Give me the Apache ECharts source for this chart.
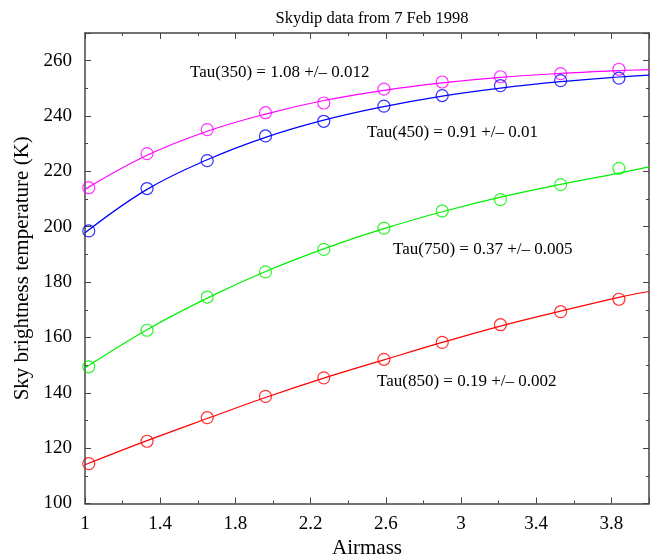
<!DOCTYPE html>
<html>
<head>
<meta charset="utf-8">
<script src="https://cdn.jsdelivr.net/npm/echarts@6/dist/echarts.min.js"></script>
<style>html,body{margin:0;padding:0;background:#fff;}#c{width:650px;height:558px;}</style>
</head>
<body>
<div id="c"></div>
<script>
// measured points
var airmass = [1.02, 1.33, 1.65, 1.96, 2.27, 2.59, 2.90, 3.21, 3.53, 3.84];
var t350 = [214.1, 226.4, 235.1, 241.2, 244.7, 249.7, 252.3, 254.2, 255.3, 256.9];
var t450 = [198.5, 213.8, 223.9, 232.8, 238.1, 243.6, 247.4, 251.0, 252.8, 253.7];
var t750 = [149.4, 162.6, 174.6, 183.7, 191.8, 199.5, 205.7, 209.8, 215.2, 221.1];
var t850 = [114.4, 122.5, 131.0, 138.7, 145.4, 152.1, 158.2, 164.6, 169.3, 173.8];
// fitted curves
var fitAirmass = [1.0, 1.33, 1.65, 1.96, 2.27, 2.59, 2.90, 3.21, 3.53, 3.84, 4.0];
var fit350 = [213.5, 225.8, 234.5, 240.7, 245.6, 249.3, 252.0, 254.0, 255.4, 256.4, 256.8];
var fit450 = [197.8, 213.5, 224.2, 232.3, 238.5, 243.4, 247.2, 250.1, 252.4, 254.1, 254.8];
var fit750 = [149.0, 162.8, 174.2, 183.8, 192.0, 199.3, 205.4, 210.7, 215.3, 219.4, 221.6];
var fit850 = [114.0, 122.7, 130.7, 138.3, 145.3, 151.9, 158.2, 164.1, 169.5, 174.5, 176.6];
var labels = ['Tau(350) = 1.08 +/\u2013 0.012', 'Tau(450) = 0.91 +/\u2013 0.01', 'Tau(750) = 0.37 +/\u2013 0.005', 'Tau(850) = 0.19 +/\u2013 0.002'];
var colors = ['#ff00ff', '#0000ff', '#00f000', '#ff0000'];

function zip(xs, ys) { return xs.map(function (x, i) { return [x, ys[i]]; }); }

var FONT = 'Liberation Serif';
var axisCol = '#444';
var chart = echarts.init(document.getElementById('c'), null, {renderer: 'canvas'});

function xAx(pos, show) {
  return {
    type: 'value', position: pos, min: 1, max: 4, interval: 0.4,
    axisLine: {show: true, onZero: false, lineStyle: {color: axisCol, width: 1.5}},
    axisTick: {show: true, inside: true, length: 6, lineStyle: {color: axisCol}},
    minorTick: {show: true, splitNumber: 2, length: 3, lineStyle: {color: axisCol}},
    splitLine: {show: false},
    axisLabel: {show: show, color: '#000', fontFamily: FONT, fontSize: 19, margin: 11,
      showMaxLabel: false, formatter: function (v) { return String(Math.round(v * 10) / 10); }},
    name: show ? 'Airmass' : '', nameLocation: 'middle', nameGap: 33,
    nameTextStyle: {color: '#000', fontFamily: FONT, fontSize: 21}
  };
}
function yAx(pos, show) {
  return {
    type: 'value', position: pos, min: 100, max: 270, interval: 20,
    axisLine: {show: true, onZero: false, lineStyle: {color: axisCol, width: 1.5}},
    axisTick: {show: true, inside: true, length: 6, lineStyle: {color: axisCol}},
    minorTick: {show: true, splitNumber: 2, length: 3, lineStyle: {color: axisCol}},
    splitLine: {show: false},
    axisLabel: {show: show, color: '#000', fontFamily: FONT, fontSize: 19, margin: 13, showMaxLabel: false},
    name: show ? 'Sky brightness temperature (K)' : '', nameLocation: 'middle', nameGap: 52,
    nameTextStyle: {color: '#000', fontFamily: FONT, fontSize: 21}
  };
}

var series = [];
var pts = [t350, t450, t750, t850];
var fits = [fit350, fit450, fit750, fit850];
for (var i = 0; i < 4; i++) {
  series.push({
    type: 'line', data: zip(fitAirmass, fits[i]), smooth: 0.4,
    showSymbol: false, symbol: 'none', lineStyle: {color: colors[i], width: 1.2}, silent: true, z: 2
  });
  series.push({
    type: 'scatter', data: zip(airmass, pts[i]), symbol: 'circle', symbolSize: 12,
    itemStyle: {color: 'rgba(0,0,0,0)', borderColor: colors[i], borderWidth: 1.2}, z: 3
  });
}

var textPos = [[190, 74], [367, 134], [393, 251], [377, 383]];
var graphics = labels.map(function (t, i) {
  return {type: 'text', left: textPos[i][0], top: textPos[i][1] - 10,
    style: {text: t, fill: '#000', font: '17px "' + FONT + '"'}};
});

chart.setOption({
  animation: false,
  backgroundColor: '#fff',
  title: {text: 'Skydip data from 7 Feb 1998', left: 367, top: 5, textAlign: 'center',
    textStyle: {fontFamily: FONT, fontSize: 16.5, fontWeight: 'normal', color: '#000'}},
  grid: {left: 85, right: 1, top: 33, bottom: 54.5, containLabel: false, outerBoundsMode: 'none'},
  xAxis: [xAx('bottom', true), xAx('top', false)],
  yAxis: [yAx('left', true), yAx('right', false)],
  series: series,
  graphic: graphics
});
</script>
</body>
</html>
